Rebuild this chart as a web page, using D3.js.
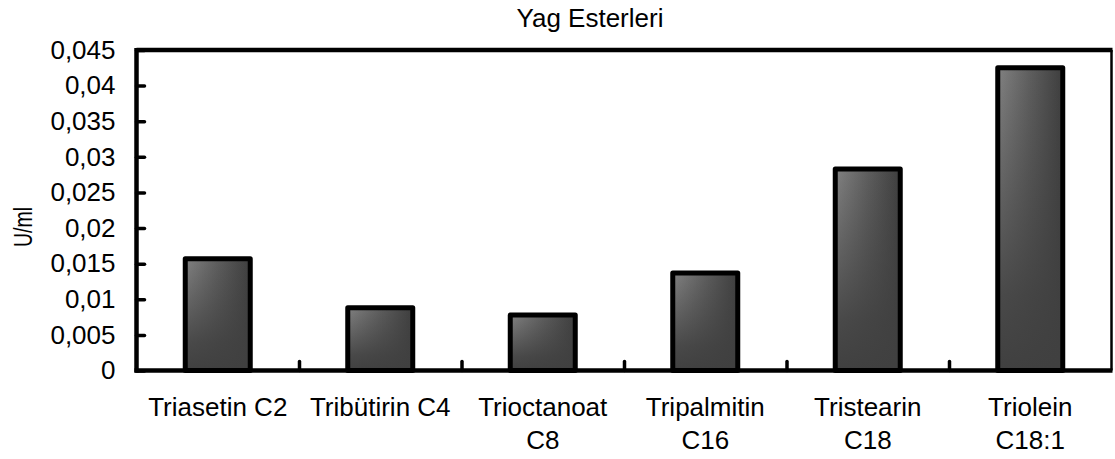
<!DOCTYPE html>
<html>
<head>
<meta charset="utf-8">
<script src="https://cdn.jsdelivr.net/npm/d3@7"></script>
<style>
  html, body { margin: 0; padding: 0; background: #fff; }
  svg { display: block; }
  text { font-family: "Liberation Sans", Arial, sans-serif; fill: #000; }
</style>
</head>
<body>
<svg id="chart" width="1115" height="459"></svg>
<script>
const title = "Yag Esterleri";
const yLabel = "U/ml";
const categories = ["Triasetin C2", "Tribütirin C4", "Trioctanoat C8", "Tripalmitin C16", "Tristearin C18", "Triolein C18:1"];
const values = [0.0157, 0.0088, 0.0078, 0.0137, 0.0283, 0.0425];
const yTicks = [0, 0.005, 0.01, 0.015, 0.02, 0.025, 0.03, 0.035, 0.04, 0.045];
const yTickLabels = ["0", "0,005", "0,01", "0,015", "0,02", "0,025", "0,03", "0,035", "0,04", "0,045"];

(function () {
const svg = d3.select("#chart");
const pL = 136.5, pR = 1111.5, pT = 50, pB = 370.5;
const fontSize = 26;

const x = d3.scaleBand().domain(categories).range([pL, pR]).padding(0);
const xEdge = d3.scaleLinear().domain([0, categories.length]).range([pL, pR]);
const y = d3.scaleLinear().domain([0, 0.045]).range([pB, pT]);

// gradients
const defs = svg.append("defs");
const gh = defs.append("linearGradient").attr("id", "gh").attr("x1", 0).attr("y1", 0).attr("x2", 1).attr("y2", 0);
gh.append("stop").attr("offset", 0).attr("stop-color", "#828282");
gh.append("stop").attr("offset", 0.5).attr("stop-color", "#5e5e5e");
gh.append("stop").attr("offset", 1).attr("stop-color", "#3e3e3e");
const gv = defs.append("linearGradient").attr("id", "gv").attr("x1", 0).attr("y1", 0).attr("x2", 0).attr("y2", 1);
gv.append("stop").attr("offset", 0).attr("stop-color", "#404040").attr("stop-opacity", 0);
gv.append("stop").attr("offset", 0.75).attr("stop-color", "#404040").attr("stop-opacity", 0.85);
gv.append("stop").attr("offset", 1).attr("stop-color", "#404040").attr("stop-opacity", 1);

// title
svg.append("text").attr("x", 590).attr("y", 27).attr("text-anchor", "middle")
  .style("font-size", fontSize + "px").text(title);

// y label
svg.append("text").attr("transform", "translate(32,227) scale(1.35,1) rotate(-90)")
  .attr("text-anchor", "middle").style("font-size", "19.5px").text(yLabel);

// bars
const barFrac = 0.4;
const bw = x.bandwidth() * barFrac;
const bars = svg.append("g");
const data = categories.map((c, i) => ({ c, v: values[i] }));
bars.selectAll("rect.base").data(data).join("rect").attr("class", "base")
  .attr("x", d => x(d.c) + (x.bandwidth() - bw) / 2)
  .attr("y", d => y(d.v)).attr("width", bw).attr("height", d => y(0) - y(d.v))
  .attr("fill", "url(#gh)");
bars.selectAll("rect.over").data(data).join("rect").attr("class", "over")
  .attr("x", d => x(d.c) + (x.bandwidth() - bw) / 2)
  .attr("y", d => y(d.v)).attr("width", bw).attr("height", d => y(0) - y(d.v))
  .attr("fill", "url(#gv)")
  .attr("stroke", "#000").attr("stroke-width", 5).attr("stroke-linejoin", "round");

// frame top & right
svg.append("line").attr("x1", pL).attr("x2", pR + 1).attr("y1", pT).attr("y2", pT)
  .attr("stroke", "#000").attr("stroke-width", 4.5);
svg.append("line").attr("x1", pR).attr("x2", pR).attr("y1", pT).attr("y2", pB)
  .attr("stroke", "#000").attr("stroke-width", 2.5);

// y axis
const yAxis = svg.append("g").attr("transform", `translate(${pL},0)`)
  .call(d3.axisLeft(y).tickValues(yTicks).tickFormat((d, i) => yTickLabels[i])
    .tickSizeInner(-8).tickSizeOuter(0).tickPadding(21));
yAxis.select(".domain").attr("stroke", "#000").attr("stroke-width", 4.5)
  .attr("d", `M0,${pB + 2}V${pT - 2}`);
yAxis.selectAll(".tick line").attr("stroke", "#000").attr("stroke-width", 3.5).attr("stroke-linecap", "round");
yAxis.selectAll(".tick text").style("font-size", fontSize + "px");
yAxis.attr("font-family", null).attr("font-size", null);

// x boundary ticks
const xTicksAxis = svg.append("g").attr("transform", `translate(0,${pB})`)
  .call(d3.axisBottom(xEdge).tickValues(d3.range(1, categories.length)).tickFormat("")
    .tickSizeInner(-9).tickSizeOuter(0));
xTicksAxis.select(".domain").remove();
xTicksAxis.selectAll(".tick line").attr("stroke", "#000").attr("stroke-width", 3.5).attr("stroke-linecap", "round");

// x axis with labels
const xAxis = svg.append("g").attr("transform", `translate(0,${pB})`)
  .call(d3.axisBottom(x).tickSize(0).tickPadding(27.5));
xAxis.attr("font-family", null).attr("font-size", null);
xAxis.select(".domain").attr("stroke", "#000").attr("stroke-width", 4.5)
  .attr("d", `M${pL - 2},0H${pR + 1}`);
xAxis.selectAll(".tick text").style("font-size", fontSize + "px")
  .each(function (d) {
    const t = d3.select(this);
    if (this.getComputedTextLength() > x.bandwidth() - 4) {
      const words = d.split(" ");
      const last = words.pop();
      const yv = t.attr("y");
      t.text(null).attr("dy", null);
      t.append("tspan").attr("x", 0).attr("y", yv).attr("dy", "0.71em").text(words.join(" "));
      t.append("tspan").attr("x", 0).attr("y", yv).attr("dy", (0.71 * fontSize + 33) + "px").text(last);
    }
  });
})();
</script>
</body>
</html>
